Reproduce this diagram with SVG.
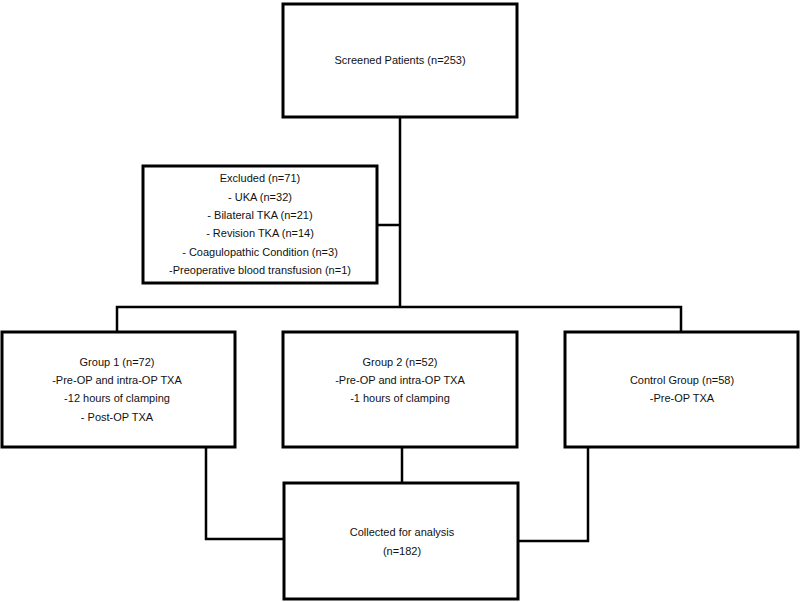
<svg xmlns="http://www.w3.org/2000/svg" width="800" height="602" viewBox="0 0 800 602">
<style>
.box{fill:#fff;stroke:#000;stroke-width:3}
.ln{fill:none;stroke:#000;stroke-width:2.5}
text{font-family:"Liberation Sans",Arial,sans-serif;font-size:11px;fill:#111;text-anchor:middle}
</style>
<rect width="800" height="602" fill="#fff"/>
<g id="connectors">
<path class="ln" d="M400,117 V307"/>
<path class="ln" d="M377,225 H400"/>
<path class="ln" d="M117,332 V307 H681 V332"/>
<path class="ln" d="M206,447 V539 H284"/>
<path class="ln" d="M402,447 V483"/>
<path class="ln" d="M588,447 V541 H518"/>
</g>
<g id="screened">
<rect class="box" x="283" y="4" width="234" height="113"/>
<text x="400" y="64">Screened Patients (n=253)</text>
</g>
<g id="excluded">
<rect class="box" x="143" y="166" width="234" height="117"/>
<text x="260" y="182">Excluded (n=71)</text>
<text x="260" y="201">- UKA (n=32)</text>
<text x="260" y="219">- Bilateral TKA (n=21)</text>
<text x="260" y="237">- Revision TKA (n=14)</text>
<text x="260" y="256">- Coagulopathic Condition (n=3)</text>
<text x="260" y="274">-Preoperative blood transfusion (n=1)</text>
</g>
<g id="group1">
<rect class="box" x="2" y="332" width="233" height="115"/>
<text x="117" y="366">Group 1 (n=72)</text>
<text x="117" y="384">-Pre-OP and intra-OP TXA</text>
<text x="117" y="402">-12 hours of clamping</text>
<text x="117" y="421">- Post-OP TXA</text>
</g>
<g id="group2">
<rect class="box" x="283" y="332" width="234" height="115"/>
<text x="400" y="366">Group 2 (n=52)</text>
<text x="400" y="384">-Pre-OP and intra-OP TXA</text>
<text x="400" y="402">-1 hours of clamping</text>
</g>
<g id="control">
<rect class="box" x="565" y="332" width="233" height="115"/>
<text x="682" y="384">Control Group (n=58)</text>
<text x="682" y="402">-Pre-OP TXA</text>
</g>
<g id="collected">
<rect class="box" x="284" y="483" width="234" height="116"/>
<text x="402" y="536">Collected for analysis</text>
<text x="402" y="555">(n=182)</text>
</g>
</svg>
